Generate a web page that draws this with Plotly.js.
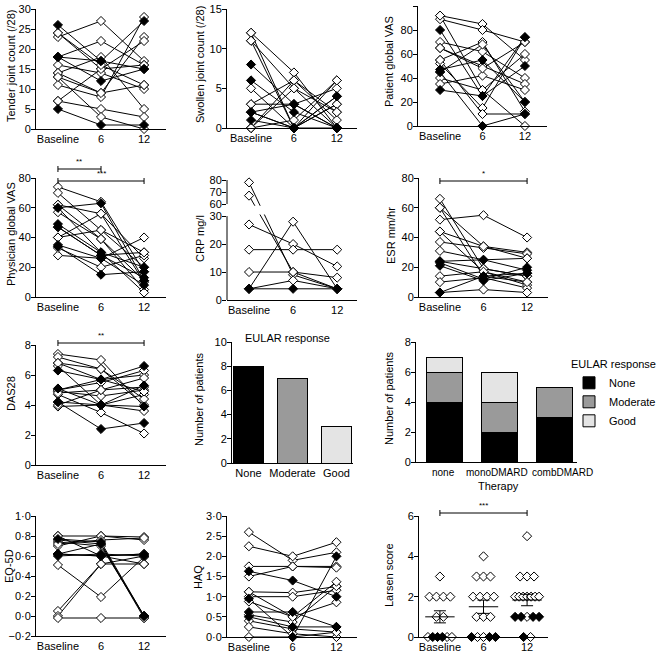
<!DOCTYPE html>
<html><head><meta charset="utf-8">
<script src="https://cdn.plot.ly/plotly-3.0.1.min.js"></script>
<style>html,body{margin:0;padding:0;background:#fff}#chart{width:664px;height:652px}</style>
</head><body><div id="chart"></div>
<script>
// ---------------- DATA ----------------
const timeLabels = ['Baseline', '6', '12'];

// each row = one patient: [baseline, 6 months, 12 months]
const tender = [[23,27,17],[24,15,16],[26,17,15],[18,12,15],[18,17,27],[18,22,16],[16,14,10],[14,18,5],[13,9,23],[11,8,28],[7,15,22],[7,5,3],[5,1,1],[14,9,11],[13,3,0],[24,16,11]];
const tenderFilled = [0,0,1,1,1,0,0,0,0,0,0,0,1,0,0,0];

const swollen = [[12,7,0],[12,0,3],[11,5,0],[11,0,4],[8,3,0],[6,2,0],[5,0,6],[3,6,1],[2,3,5],[2,0,3],[1,0,4],[0,6,2],[0,1,6],[3,3,0],[0,5,2],[2,0,0]];
const swollenFilled = [0,0,0,0,1,1,0,0,0,0,1,0,0,0,0,1];

const patientVAS = [[92,85,55],[89,80,70],[80,25,74],[70,62,40],[65,50,35],[55,70,12],[52,15,74],[47,55,20],[45,0,10],[40,30,60],[35,42,30],[30,25,50],[92,30,0],[45,68,20],[55,10,10],[65,48,70]];
const patientVASFilled = [0,0,1,0,0,0,0,1,1,0,0,1,0,0,0,0];

const physicianVAS = [[74,64,17],[70,45,20],[62,56,26],[60,63,11],[57,39,5],[49,30,20],[47,28,13],[40,45,30],[35,26,8],[34,15,17],[28,26,40],[33,20,28],[47,28,30],[60,30,3],[40,56,10],[62,39,11]];
const physicianVASFilled = [0,0,0,1,0,1,1,0,1,1,0,0,0,0,0,0];

const crp = [[78,9,4],[67,10,4],[27,20,12],[18,18,18],[10,10,8],[4,28,4],[4,4,4],[4,7,4]];
const crpFilled = [0,0,0,0,0,0,1,0];
const crpTicks = [0,10,20,30,60,70,80];

const esr = [[66,19,14],[60,14,10],[52,55,40],[44,34,30],[37,33,29],[31,25,26],[24,25,18],[23,12,20],[21,11,16],[14,17,8],[10,13,6],[3,14,16],[3,5,3],[24,19,14],[60,34,26],[44,17,10]];
const esrFilled = [0,0,0,0,0,0,1,1,1,0,0,1,0,0,0,0];

const das28 = [[7.4,7.0,3.9],[7.2,6.4,4.0],[6.8,5.7,6.0],[6.6,4.0,3.6],[6.3,5.7,6.6],[5.1,4.0,5.3],[5.0,5.5,6.3],[4.9,4.6,5.0],[4.7,3.5,2.1],[4.2,2.4,2.8],[3.9,4.0,4.7],[4.0,5.0,5.2],[4.2,4.0,3.9],[6.8,6.4,4.4],[5.0,5.7,4.9],[4.8,5.0,5.8]];
const das28Filled = [0,0,0,0,1,1,0,0,0,1,0,0,1,0,0,0];

const eularCats = ['None', 'Moderate', 'Good'];
const eularCounts = [8, 7, 3];

const therapyCats = ['none', 'monoDMARD', 'combDMARD'];
const therapyNone = [4, 2, 3];
const therapyModerate = [2, 2, 2];
const therapyGood = [1, 2, 0];

const eq5d = [[0.80,0.80,0.79],[0.77,0.74,0.0],[0.74,0.70,0.0],[0.70,0.80,0.76],[0.62,0.60,0.62],[0.60,0.62,0.60],[0.51,0.19,0.59],[0.05,0.52,0.52],[0.0,0.52,0.60],[-0.02,-0.02,-0.02],[0.76,0.72,-0.02],[0.62,0.60,0.52],[0.72,0.76,0.78],[0.62,0.72,0.0],[0.80,0.60,0.62]];
const eq5dFilled = [0,1,0,0,1,1,0,0,0,0,0,0,0,1,0];
const eq5dTicks = [-0.2,0,0.2,0.4,0.6,0.8,1.0];
const eq5dTickText = ['\u22120\u00b72','0\u00b70','0\u00b72','0\u00b74','0\u00b76','0\u00b78','1\u00b70'];

const haq = [[2.6,1.9,2.1],[2.25,2.0,2.35],[1.75,1.75,1.75],[1.63,1.4,1.0],[1.5,1.75,1.72],[1.12,1.1,1.25],[1.0,1.0,1.16],[0.88,0.5,0.86],[0.62,0.62,0.25],[0.55,0.37,1.26],[0.5,0.25,0.25],[0.4,0.2,0.12],[0.25,0.08,0],[0,0,0.12],[0.95,0.0,2.0],[1.12,0.5,1.37]];
const haqFilled = [0,0,0,1,0,0,0,0,1,0,1,0,0,0,1,0];
const haqTicks = [0,0.5,1,1.5,2,2.5,3];
const haqTickText = ['0\u00b70','0\u00b75','1\u00b70','1\u00b75','2\u00b70','2\u00b75','3\u00b70'];

const larsenBase = [0,0,0,0,0,0,1,1,2,2,2,2,3];
const larsenBaseFilled = [0,1,1,1,0,0,0,0,0,0,0,0,0];
const larsen6 = [0,0,0,0,0,1,1,1,2,2,2,2,3,3,3,4];
const larsen6Filled = [1,0,0,1,1,0,0,0,0,0,0,0,0,0,0,0];
const larsen12 = [0,0,1,1,1,1,1,2,2,2,2,2,2,2,3,3,3,5];
const larsen12Filled = [1,0,1,1,0,1,1,0,0,0,0,0,0,0,0,0,0,0];

// ---------------- LAYOUT HELPERS ----------------
const W = 664, H = 652;
const FONT = 'Liberation Sans, Arial, Helvetica, sans-serif';
const xd = (a, b) => [a / W, b / W];
const yd = (top, bot) => [1 - bot / H, 1 - top / H];
const py = p => 1 - p / H;

const traces = [];
const shapes = [];
const annotations = [];
const layout = {
  width: W, height: H, margin: {l: 0, r: 0, t: 0, b: 0},
  paper_bgcolor: '#fff', plot_bgcolor: 'rgba(0,0,0,0)',
  font: {family: FONT, size: 11, color: '#000'},
  barmode: 'stack', showlegend: true,
  legend: {x: 569 / W, y: py(354), xanchor: 'left', yanchor: 'top',
    title: {text: 'EULAR response', font: {size: 11}}, font: {size: 11},
    bgcolor: 'rgba(0,0,0,0)', borderwidth: 0, traceorder: 'normal'},
  shapes: shapes, annotations: annotations
};

function xAxis(dom, range, extra) {
  return Object.assign({domain: xd(dom[0], dom[1]), range: range, showline: true, linecolor: '#000', linewidth: 1,
    ticks: '', showgrid: false, zeroline: false, tickfont: {size: 11}, tickangle: 0, fixedrange: true}, extra || {});
}
function yTitle(text, cx, cy) {
  annotations.push({xref: 'paper', yref: 'paper', x: cx / W, y: py(cy), text: text, textangle: -90, showarrow: false,
    xanchor: 'center', yanchor: 'middle', font: {size: 11}});
}
function yAxis(dom, range, extra) {
  return Object.assign({domain: yd(dom[0], dom[1]), range: range, showline: true, linecolor: '#000', linewidth: 1,
    ticks: 'outside', ticklen: 4, tickwidth: 1, tickcolor: '#000', showgrid: false, zeroline: false,
    ticklabelstandoff: -2, tickfont: {size: 11}, fixedrange: true}, extra || {});
}

function linePanel(n, data, filled, xdom, xr, ydom, yr, yextra, tf) {
  tf = tf || (v => v);
  const xa = 'x' + n, ya = 'y' + n;
  layout['xaxis' + n] = xAxis(xdom, xr, {anchor: ya, tickvals: [0, 1, 2], ticktext: timeLabels});
  layout['yaxis' + n] = yAxis(ydom, yr, Object.assign({anchor: xa}, yextra || {}));
  const lx = [], ly = [];
  data.forEach(p => { p.forEach((v, i) => { lx.push(i); ly.push(tf(v)); }); lx.push(null); ly.push(null); });
  traces.push({type: 'scatter', mode: 'lines', x: lx, y: ly, xaxis: xa, yaxis: ya, line: {color: '#000', width: 1},
    showlegend: false, hoverinfo: 'skip', cliponaxis: false});
  [0, 1].forEach(f => {
    const mx = [], my = [];
    data.forEach((p, k) => { if (filled[k] === f) p.forEach((v, i) => { mx.push(i); my.push(tf(v)); }); });
    traces.push({type: 'scatter', mode: 'markers', x: mx, y: my, xaxis: xa, yaxis: ya,
      marker: {symbol: 'diamond', size: 7, color: f ? '#000' : '#fff', line: {color: '#000', width: 1}},
      showlegend: false, hoverinfo: 'skip', cliponaxis: false});
  });
}

function bracket(n, x0, x1, p, stars) {
  const xr = 'x' + n;
  shapes.push({type: 'line', xref: xr, yref: 'paper', x0: x0, x1: x1, y0: py(p), y1: py(p), line: {color: '#000', width: 1}});
  [x0, x1].forEach(x => shapes.push({type: 'line', xref: xr, yref: 'paper', x0: x, x1: x, y0: py(p - 3), y1: py(p + 3), line: {color: '#000', width: 1}}));
  annotations.push({xref: xr, yref: 'paper', x: (x0 + x1) / 2, y: py(p - 1), text: stars, showarrow: false,
    xanchor: 'center', yanchor: 'bottom', font: {size: 8}});
}

// ---------------- PANELS ----------------
linePanel(1, tender, tenderFilled, [36, 166], [-0.51, 2.51], [9, 129], [0, 30], {dtick: 5});
yTitle('Tender joint count (/28)', 11, 66);
linePanel(2, swollen, swollenFilled, [227, 357], [-0.56, 2.47], [9, 128], [0, 15], {dtick: 5});
yTitle('Swollen joint count (/28)', 200, 65);
linePanel(3, patientVAS, patientVASFilled, [418, 547], [-0.52, 2.52], [6, 126], [0, 100], {dtick: 20});
yTitle('Patient global VAS', 389, 62);
linePanel(4, physicianVAS, physicianVASFilled, [36, 166], [-0.51, 2.51], [178, 297], [0, 80], {dtick: 20});
yTitle('Physician global VAS', 11, 234);

// CRP with broken axis (0-30 and 60-80)
const CRP_G = 4.3, CRP_K = 0.43;
const crpT = v => (v <= 30 ? v : 30 + CRP_G + (v - 60) * CRP_K);
linePanel(5, crp, crpFilled, [227, 357], [-0.5, 2.45], [180, 300], [0, crpT(80)],
  {showline: false, tickvals: crpTicks.map(crpT), ticktext: crpTicks.map(String)}, crpT);
yTitle('CRP mg/l', 200, 239);
shapes.push({type: 'rect', xref: 'x5 domain', yref: 'y5', x0: 0.01, x1: 1, y0: 30.6, y1: crpT(60) - 0.6, fillcolor: '#fff', line: {width: 0}, layer: 'above'});
shapes.push({type: 'line', xref: 'x5 domain', yref: 'y5', x0: 0, x1: 0, y0: 0, y1: 30, line: {color: '#000', width: 1}});
shapes.push({type: 'line', xref: 'x5 domain', yref: 'y5', x0: 0, x1: 0, y0: crpT(60), y1: crpT(80), line: {color: '#000', width: 1}});

linePanel(6, esr, esrFilled, [419, 548], [-0.48, 2.48], [178, 297], [0, 80], {dtick: 20});
yTitle('ESR mm/hr', 391, 236);
linePanel(7, das28, das28Filled, [36, 166], [-0.51, 2.51], [345, 465], [0, 8], {dtick: 2});
yTitle('DAS28', 11, 394);
linePanel(10, eq5d, eq5dFilled, [36, 166], [-0.51, 2.51], [516, 636], [-0.2, 1.0], {tickvals: eq5dTicks, ticktext: eq5dTickText});
yTitle('EQ-5D', 9, 566);
linePanel(11, haq, haqFilled, [227, 357], [-0.5, 2.47], [516, 637], [0, 3], {tickvals: haqTicks, ticktext: haqTickText});
yTitle('HAQ', 198, 577);

// EULAR response bar chart
layout.xaxis8 = xAxis([232, 353], [-0.375, 2.375], {anchor: 'y8', type: 'category', categoryarray: eularCats});
layout.yaxis8 = yAxis([342, 463], [0, 10], {anchor: 'x8', dtick: 2});
yTitle('Number of patients', 199, 400);
traces.push({type: 'bar', x: eularCats, y: eularCounts, xaxis: 'x8', yaxis: 'y8', width: 0.66,
  marker: {color: ['#000000', '#9a9a9a', '#e4e4e4'], line: {color: '#000', width: 1}}, showlegend: false, hoverinfo: 'skip'});
annotations.push({xref: 'paper', yref: 'paper', x: 287 / W, y: py(338), text: 'EULAR response', showarrow: false,
  xanchor: 'center', yanchor: 'middle', font: {size: 11}});

// Therapy stacked bar chart (category labels placed as in the original)
layout.xaxis9 = xAxis([416, 577], [-0.53, 2.42], {anchor: 'y9', type: 'category', categoryarray: therapyCats, showticklabels: false});
layout.yaxis9 = yAxis([342, 462], [0, 8], {anchor: 'x9', dtick: 2});
yTitle('Number of patients', 389, 399);
const therapyLabelX = [443, 497, 562];
therapyCats.forEach((c, i) => annotations.push({xref: 'paper', yref: 'paper', x: therapyLabelX[i] / W, y: py(472), text: c,
  showarrow: false, xanchor: 'center', yanchor: 'middle', font: {size: 10}}));
annotations.push({xref: 'paper', yref: 'paper', x: 498 / W, y: py(486), text: 'Therapy', showarrow: false,
  xanchor: 'center', yanchor: 'middle', font: {size: 11}});
[['None', therapyNone, '#000000'], ['Moderate', therapyModerate, '#9a9a9a'], ['Good', therapyGood, '#e4e4e4']].forEach(s => {
  traces.push({type: 'bar', name: s[0], x: therapyCats, y: s[1], xaxis: 'x9', yaxis: 'y9', width: 0.66,
    marker: {color: s[2], line: {color: '#000', width: 1}}, hoverinfo: 'skip'});
});

// Larsen score dot plot with mean +/- SEM
layout.xaxis12 = xAxis([419, 548], [-0.48, 2.48], {anchor: 'y12', tickvals: [0, 1, 2], ticktext: timeLabels});
layout.yaxis12 = yAxis([516, 637], [0, 6], {anchor: 'x12', dtick: 2});
yTitle('Larsen score', 389, 575);
const larsenSets = [[larsenBase, larsenBaseFilled], [larsen6, larsen6Filled], [larsen12, larsen12Filled]];
const lm = {0: {x: [], y: []}, 1: {x: [], y: []}};
const means = [], sems = [];
larsenSets.forEach((set, gi) => {
  const vals = set[0], fl = set[1];
  const groups = {};
  vals.forEach((v, i) => { (groups[v] = groups[v] || []).push(i); });
  Object.keys(groups).forEach(v => {
    const idx = groups[v], n = idx.length;
    const step = n > 1 ? Math.min(0.16, 0.55 / (n - 1)) : 0;
    idx.forEach((i, k) => { const f = fl[i]; lm[f].x.push(gi + (k - (n - 1) / 2) * step); lm[f].y.push(vals[i]); });
  });
  const m = vals.reduce((a, b) => a + b, 0) / vals.length;
  const sd = Math.sqrt(vals.reduce((a, b) => a + (b - m) * (b - m), 0) / (vals.length - 1));
  means.push(m); sems.push(sd / Math.sqrt(vals.length));
});
[0, 1].forEach(f => traces.push({type: 'scatter', mode: 'markers', x: lm[f].x, y: lm[f].y, xaxis: 'x12', yaxis: 'y12',
  marker: {symbol: 'diamond', size: 7, color: f ? '#000' : '#fff', line: {color: '#000', width: 1}},
  showlegend: false, hoverinfo: 'skip', cliponaxis: false}));
traces.push({type: 'scatter', mode: 'markers', x: [0, 1, 2], y: means, xaxis: 'x12', yaxis: 'y12',
  marker: {symbol: 'line-ew', size: 21, color: '#000', line: {color: '#000', width: 1}},
  error_y: {type: 'data', array: sems, color: '#000', thickness: 1, width: 6},
  showlegend: false, hoverinfo: 'skip', cliponaxis: false});

// significance brackets
bracket(4, 0, 1, 169, '**');
bracket(4, 0, 2, 181, '***');
bracket(6, 0, 2, 181, '*');
bracket(7, 0, 2, 343, '**');
bracket(12, 0, 2, 513, '***');

Plotly.newPlot('chart', traces, layout, {displayModeBar: false, staticPlot: true});
</script>
</body></html>
